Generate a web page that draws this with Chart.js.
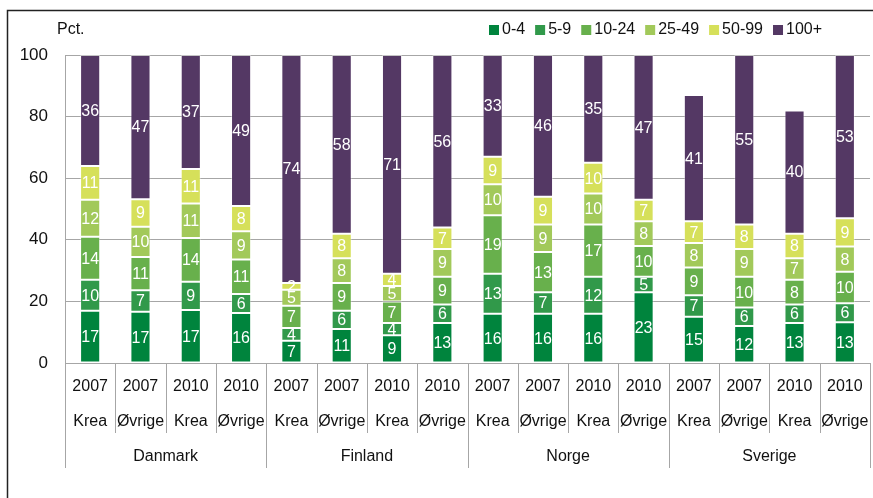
<!DOCTYPE html>
<html>
<head>
<meta charset="utf-8">
<script src="https://cdn.jsdelivr.net/npm/chart.js@4/dist/chart.umd.min.js"></script>
<style>
  html, body { margin: 0; padding: 0; background: #fff; }
  #wrap { width: 873px; height: 498px; position: relative; }
</style>
</head>
<body>
<div id="wrap"><canvas id="chart" width="873" height="498"></canvas></div>
<script>
// categories (three rows on the x axis)
const years = ['2007', '2007', '2010', '2010', '2007', '2007', '2010', '2010',
               '2007', '2007', '2010', '2010', '2007', '2007', '2010', '2010'];
const types = ['Krea', 'Øvrige', 'Krea', 'Øvrige', 'Krea', 'Øvrige', 'Krea', 'Øvrige',
               'Krea', 'Øvrige', 'Krea', 'Øvrige', 'Krea', 'Øvrige', 'Krea', 'Øvrige'];
const countries = ['Danmark', 'Finland', 'Norge', 'Sverige'];

// series (pct. of firms by size class); labels are rounded, so some
// values are estimated with decimals so that full bars reach 100
const size0to4 = [17, 16.6, 17.2, 16.2, 7.2, 11, 9, 13, 16, 16, 16, 23, 15, 12, 13, 13.2];
const size5to9 = [10, 7, 9.2, 6.2, 4.2, 6, 4, 6, 13, 7, 12, 5, 7, 6, 6, 6.2];
const size10to24 = [14, 10.8, 14.2, 11.2, 7.2, 9, 7, 9, 19, 13, 17, 10, 9, 10, 8, 10.2];
const size25to49 = [12, 9.8, 11.2, 9.2, 5.2, 8, 5, 9, 10, 9, 10, 8, 8, 9, 7, 8.2];
const size50to99 = [11, 9, 11.2, 8.2, 2.2, 8, 4, 7, 9, 9, 10, 7, 7, 8, 8, 9.2];
const size100plus = [36, 46.8, 37, 49, 74, 58, 71, 56, 33, 46, 35, 47, 41, 55, 40, 53];

const seriesNames = ['0-4', '5-9', '10-24', '25-49', '50-99', '100+'];
const yTicks = [0, 20, 40, 60, 80, 100];

const colors = ['#00843d', '#31994a', '#68b04c', '#a2c95a', '#d6e05a', '#543864'];
const FONT = '"Liberation Sans", Arial, sans-serif';

const allSeries = [size0to4, size5to9, size10to24, size25to49, size50to99, size100plus];

const datasets = allSeries.map((vals, i) => ({
    label: seriesNames[i],
    data: vals,
    backgroundColor: colors[i],
    borderColor: 'rgba(255,255,255,0.35)',
    borderWidth: 1,
    borderSkipped: false,
    barPercentage: 0.8,
    categoryPercentage: 0.5
}));

// frame, legend, "Pct." and the x axis rows
const decorPlugin = {
    id: 'decor',
    beforeDraw(chart) {
        const ctx = chart.ctx;
        ctx.save();
        ctx.strokeStyle = '#222';
        ctx.lineWidth = 1.5;
        ctx.beginPath();
        ctx.moveTo(7.5, 498);
        ctx.lineTo(7.5, 10.5);
        ctx.lineTo(873, 10.5);
        ctx.stroke();
        ctx.restore();
    },
    afterDraw(chart) {
        const ctx = chart.ctx;
        const area = chart.chartArea;
        const xs = chart.scales.x;
        ctx.save();

        // Pct.
        ctx.fillStyle = '#111';
        ctx.font = '16px ' + FONT;
        ctx.textBaseline = 'middle';
        ctx.textAlign = 'left';
        ctx.fillText('Pct.', 57, 30);

        // legend
        let lx = 489;
        seriesNames.forEach((name, i) => {
            ctx.fillStyle = colors[i];
            ctx.fillRect(lx, 25, 10, 10);
            ctx.fillStyle = '#111';
            ctx.fillText(name, lx + 13, 30);
            lx += 13 + ctx.measureText(name).width + 10;
        });

        // x axis separators
        const n = years.length;
        const edge = (i) => {
            if (i === 0) return area.left;
            if (i === n) return area.right;
            return (xs.getPixelForValue(i - 1) + xs.getPixelForValue(i)) / 2;
        };
        ctx.strokeStyle = '#a6a6a6';
        ctx.lineWidth = 1;
        for (let i = 0; i <= n; i++) {
            const x = Math.round(edge(i)) + 0.5;
            const bottom = (i % 4 === 0) ? 468 : 433;
            ctx.beginPath();
            ctx.moveTo(x, area.bottom);
            ctx.lineTo(x, bottom);
            ctx.stroke();
        }

        // x axis labels
        ctx.fillStyle = '#111';
        ctx.textAlign = 'center';
        for (let i = 0; i < n; i++) {
            const x = xs.getPixelForValue(i);
            ctx.fillText(years[i], x, 387);
            ctx.fillText(types[i], x, 422);
        }
        countries.forEach((c, g) => {
            const x = (edge(g * 4) + edge(g * 4 + 4)) / 2;
            ctx.fillText(c, x, 457);
        });
        ctx.restore();
    }
};

// white value labels inside every segment
const valueLabels = {
    id: 'valueLabels',
    afterDatasetsDraw(chart) {
        const ctx = chart.ctx;
        ctx.save();
        ctx.font = '16px ' + FONT;
        ctx.fillStyle = '#fff';
        ctx.textAlign = 'center';
        ctx.textBaseline = 'middle';
        chart.data.datasets.forEach((ds, di) => {
            const meta = chart.getDatasetMeta(di);
            meta.data.forEach((bar, i) => {
                const v = ds.data[i];
                if (!v) return;
                const top = Math.max(bar.y, chart.chartArea.top);
                const y = (top + bar.base) / 2;
                ctx.fillText(String(Math.round(v)), bar.x, y + 1);
            });
        });
        ctx.restore();
    }
};

new Chart(document.getElementById('chart'), {
    type: 'bar',
    data: { labels: years.map((y, i) => y + ' ' + types[i]), datasets: datasets },
    options: {
        responsive: false,
        animation: false,
        layout: { padding: { top: 55, right: 3, bottom: 0, left: 0 } },
        plugins: {
            legend: { display: false },
            tooltip: { enabled: false }
        },
        scales: {
            x: {
                stacked: true,
                grid: { display: false },
                border: { display: false },
                ticks: { display: false },
                afterFit(scale) { scale.height = 135; }
            },
            y: {
                stacked: true,
                min: 0,
                max: 100,
                afterBuildTicks(scale) {
                    scale.ticks = yTicks.map(v => ({ value: v }));
                },
                grid: { color: '#a6a6a6', lineWidth: 1, drawTicks: false },
                border: { color: '#a6a6a6', width: 1 },
                ticks: {
                    color: '#111',
                    padding: 17,
                    font: { family: FONT, size: 17 }
                },
                afterFit(scale) { scale.width = 65; }
            }
        }
    },
    plugins: [decorPlugin, valueLabels]
});
</script>
</body>
</html>
